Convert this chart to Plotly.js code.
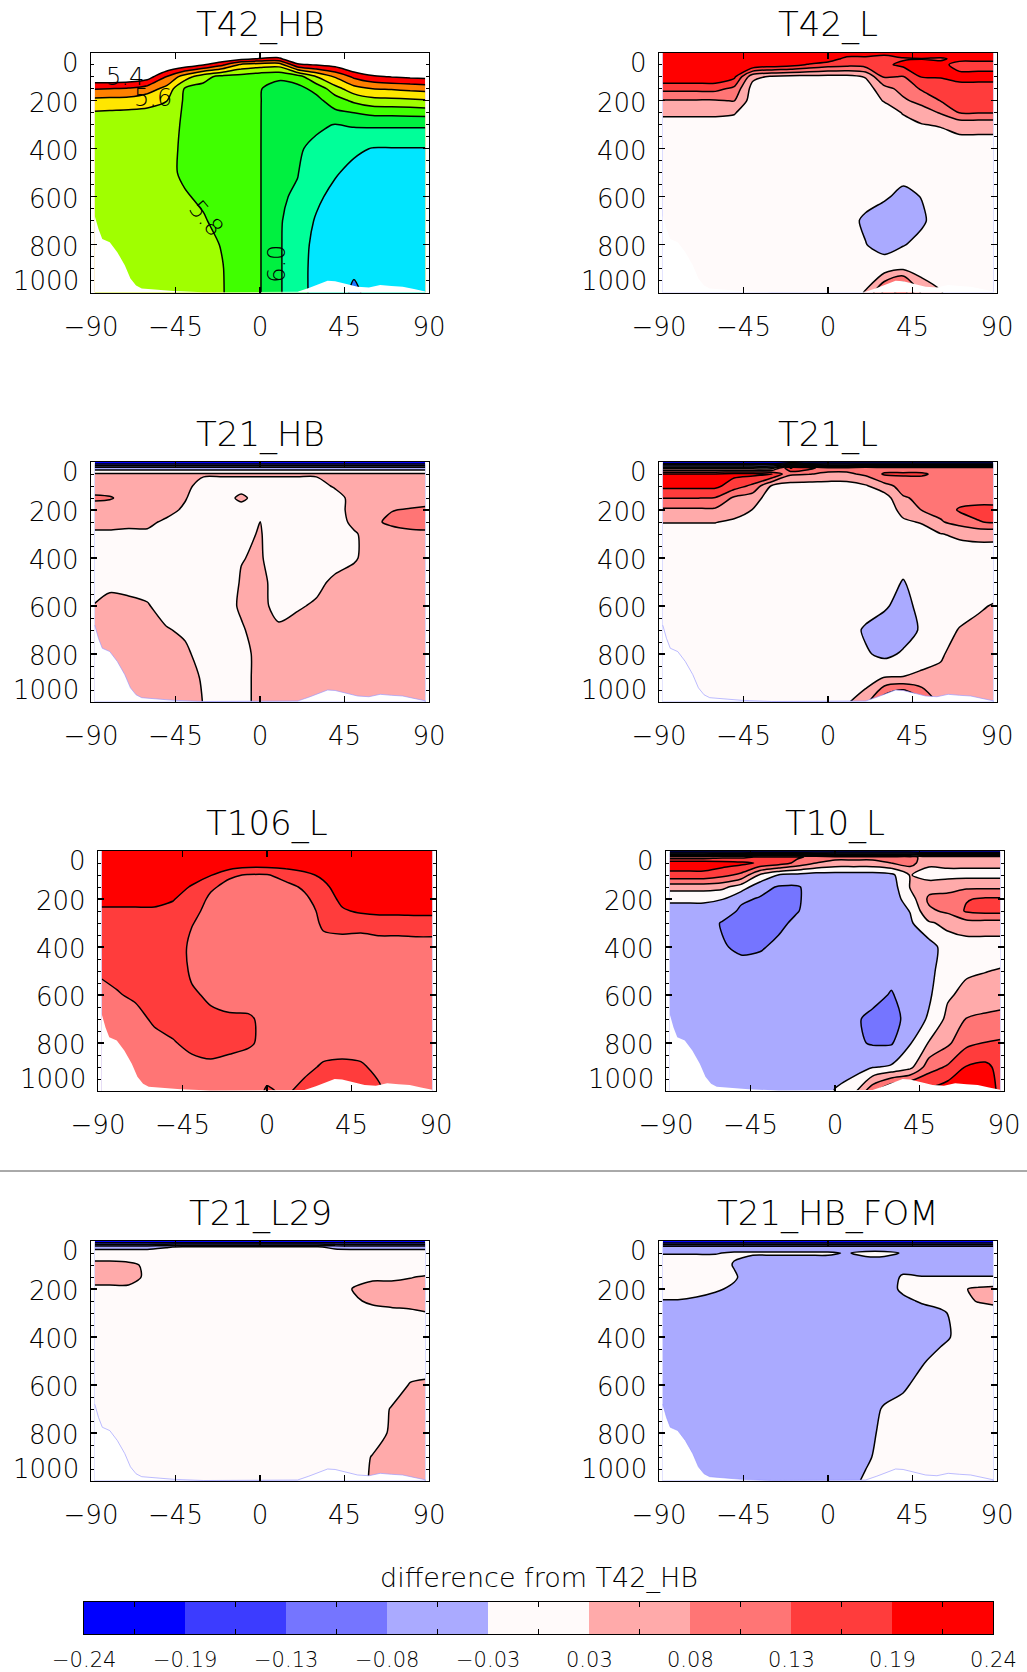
<!DOCTYPE html>
<html><head><meta charset="utf-8">
<script src="https://cdn.plot.ly/plotly-3.0.1.min.js"></script>
<style>html,body{margin:0;padding:0;background:#fff;}#chart{width:1027px;height:1672px;}</style>
</head><body><div id="chart"></div>
<script>
// ---------------- data ----------------
const lat = [-88,-80,-70,-60,-50,-40,-30,-20,-10,0,10,20,30,40,50,60,70,80,88];
const pres = [0,25,50,100,150,200,250,300,400,500,600,700,800,900,1000];

// each inner array: one latitude column, values top (0 hPa) to bottom (1000 hPa)
const t42hbByLat = [
[5.0,5.05,5.15,5.3,5.495,5.63,5.71,5.73,5.75,5.76,5.76,5.76,5.76,5.76,5.76],
[5.0,5.05,5.15,5.3,5.5,5.635,5.715,5.735,5.755,5.765,5.77,5.77,5.77,5.77,5.77],
[5.0,5.05,5.15,5.31,5.51,5.64,5.72,5.74,5.76,5.77,5.775,5.775,5.775,5.775,5.775],
[5.0,5.07,5.2,5.35,5.55,5.67,5.72,5.745,5.765,5.775,5.78,5.78,5.78,5.78,5.78],
[5.05,5.15,5.28,5.5,5.63,5.695,5.74,5.76,5.775,5.785,5.79,5.79,5.785,5.78,5.78],
[5.1,5.2,5.33,5.65,5.81,5.815,5.815,5.815,5.815,5.81,5.795,5.785,5.78,5.78,5.78],
[5.15,5.27,5.39,5.77,5.83,5.84,5.845,5.845,5.84,5.83,5.81,5.795,5.785,5.78,5.78],
[5.2,5.32,5.48,5.83,5.86,5.865,5.87,5.87,5.865,5.855,5.84,5.82,5.803,5.798,5.797],
[5.25,5.37,5.62,5.84,5.875,5.88,5.88,5.88,5.88,5.875,5.87,5.86,5.845,5.83,5.83],
[5.3,5.405,5.65,5.87,5.895,5.895,5.895,5.895,5.895,5.895,5.895,5.895,5.895,5.895,5.895],
[5.3,5.42,5.66,5.88,5.94,5.97,5.98,5.985,5.99,5.99,5.99,5.99,5.99,5.99,5.99],
[5.2,5.3,5.42,5.85,5.93,5.96,5.975,5.98,5.99,5.997,6.01,6.04,6.05,6.05,6.05],
[5.15,5.26,5.39,5.7,5.87,5.93,5.96,5.985,6.02,6.05,6.08,6.11,6.13,6.14,6.14],
[5.1,5.22,5.36,5.59,5.74,5.85,5.92,6.003,6.05,6.09,6.13,6.15,6.16,6.17,6.17],
[5.05,5.15,5.28,5.48,5.64,5.78,5.9,5.99,6.08,6.13,6.15,6.165,6.175,6.19,6.212],
[5.0,5.1,5.22,5.42,5.6,5.735,5.875,5.985,6.105,6.14,6.16,6.17,6.175,6.18,6.18],
[5.0,5.08,5.2,5.395,5.59,5.73,5.87,5.985,6.105,6.145,6.165,6.175,6.18,6.185,6.185],
[5.0,5.07,5.18,5.38,5.575,5.72,5.865,5.985,6.105,6.15,6.17,6.18,6.185,6.19,6.19],
[5.0,5.06,5.17,5.37,5.565,5.71,5.86,5.985,6.105,6.15,6.17,6.18,6.185,6.19,6.19]
];

const t42lByLat = [
[0.26,0.26,0.25,0.23,0.15,0.075,0.035,0.01,0,0,0,0,0,0,0],
[0.26,0.26,0.25,0.23,0.15,0.075,0.035,0.01,0,0,0,0,0,0,0],
[0.26,0.26,0.25,0.23,0.15,0.075,0.035,0.01,0,0,0,0,0,0,0],
[0.26,0.26,0.25,0.23,0.15,0.075,0.035,0.01,0,0,0,0,0,0,0],
[0.26,0.26,0.25,0.2,0.12,0.082,0.03,0.01,0,0,0,0,0,0,0],
[0.26,0.25,0.24,0.04,0.005,0,0,0,0,0,0,0,0,0,0],
[0.26,0.25,0.22,0.02,0,0,0,0,0,0,0,0,0,0,0],
[0.26,0.25,0.21,0.01,0,0,0,0,0,0,0,0,0,0,0],
[0.26,0.23,0.18,0.01,0,0,0,0,0,0,0,0,0,0,0],
[0.26,0.22,0.16,0.01,0,0,0,0,0,0,0,0,0,0,0],
[0.22,0.17,0.15,0.01,0,0,0,0,0,0,0,-0.01,0,0,0.005],
[0.22,0.17,0.16,0.03,0,0,0,0,0,0,-0.01,-0.035,-0.025,0,0.03],
[0.2,0.17,0.175,0.14,0.06,0.03,0,0,0,0,-0.02,-0.055,-0.045,0,0.15],
[0.22,0.18,0.2,0.13,0.1,0.07,0.03,0.01,0,-0.01,-0.04,-0.055,-0.03,0.02,0.22],
[0.22,0.185,0.2,0.19,0.14,0.1,0.05,0.025,0,0,-0.025,-0.035,-0.01,0,0.07],
[0.22,0.18,0.2,0.19,0.16,0.135,0.085,0.03,0,0,0,0,0,0,0.03],
[0.22,0.2,0.17,0.2,0.17,0.155,0.135,0.045,0,0,0,0,0,0,0],
[0.22,0.2,0.17,0.2,0.17,0.155,0.135,0.045,0,0,0,0,0,0,0],
[0.22,0.2,0.17,0.2,0.17,0.155,0.135,0.045,0,0,0,0,0,0,0]
];

const t21hbByLat = [
[-0.25,-0.06,0.035,0.05,0.09,0.05,0.04,0.02,0,0,0.03,0.05,0.05,0.05,0.05],
[-0.25,-0.06,0.035,0.05,0.085,0.05,0.04,0.02,0,0.02,0.035,0.05,0.05,0.05,0.05],
[-0.25,-0.06,0.035,0.05,0.06,0.05,0.04,0.015,0,0.022,0.03,0.05,0.05,0.05,0.05],
[-0.25,-0.06,0.035,0.05,0.05,0.045,0.035,0.02,0,0.01,0.03,0.05,0.05,0.05,0.05],
[-0.25,-0.06,0.035,0.05,0.05,0.04,0.02,0,0,0,0.01,0.03,0.05,0.05,0.05],
[-0.25,-0.06,0.035,0.045,0.03,0.02,0,0,0,0,0,0.02,0.035,0.05,0.05],
[-0.25,-0.06,0.035,0,0,0,0,0,0,0,0,0,0.01,0.02,0.025],
[-0.25,-0.06,0.035,0,0,0,0,0,0,0,0,0,0,0,0],
[-0.25,-0.06,0.035,0,0.04,0,0,0.015,0.025,0.03,0.035,0.02,0,0,0],
[-0.25,-0.06,0.035,0,0,0,0.028,0.03,0.032,0.045,0.05,0.05,0.05,0.05,0.05],
[-0.25,-0.06,0.035,0,0,0,0,0,0,0,0,0.04,0.05,0.05,0.05],
[-0.25,-0.06,0.035,0,0,0,0,0,0,0,0.02,0.05,0.05,0.05,0.05],
[-0.25,-0.06,0.035,0,0,0,0,0,0,0.01,0.035,0.05,0.05,0.05,0.05],
[-0.25,-0.06,0.035,0.035,0,0,0,0,0,0.04,0.05,0.05,0.05,0.05,0.05],
[-0.25,-0.06,0.035,0.05,0.05,0.05,0.04,0.02,0.02,0.05,0.05,0.05,0.05,0.05,0.05],
[-0.25,-0.06,0.035,0.05,0.05,0.06,0.07,0.05,0.05,0.05,0.05,0.05,0.05,0.05,0.05],
[-0.25,-0.06,0.035,0.05,0.05,0.078,0.09,0.06,0.05,0.05,0.05,0.05,0.05,0.05,0.05],
[-0.25,-0.06,0.035,0.05,0.05,0.085,0.095,0.07,0.05,0.05,0.05,0.05,0.05,0.05,0.05],
[-0.25,-0.06,0.035,0.05,0.055,0.09,0.1,0.07,0.05,0.05,0.05,0.05,0.05,0.05,0.05]
];

const t21lByLat = [
[-0.25,0.0,0.19,0.2,0.135,0.07,0.028,0.01,0,0,0,0,0,0,0],
[-0.25,0.0,0.19,0.2,0.135,0.07,0.028,0.01,0,0,0,0,0,0,0],
[-0.25,0.0,0.19,0.2,0.135,0.07,0.028,0.01,0,0,0,0,0,0,0],
[-0.25,0.0,0.19,0.2,0.13,0.07,0.028,0.01,0,0,0,0,0,0,0],
[-0.25,0.0,0.2,0.16,0.07,0.045,0.02,0,0,0,0,0,0,0,0],
[-0.25,0.0,0.2,0.12,0.05,0.025,0,0,0,0,0,0,0,0,0],
[-0.25,0.0,0.19,0.02,0,0,0,0,0,0,0,0,0,0,0],
[-0.25,0.19,0.09,0,0,0,0,0,0,0,0,0,0,0,0],
[-0.25,0.15,0.082,0,0,0,0,0,0,0,0,0,0,0,0],
[-0.25,0.1,0.07,0,0,0,0,0,0,0,0,0,0,0,0],
[-0.25,0.1,0.07,0,0,0,0,0,0,0,0,0,0,0,0.02],
[-0.25,0.12,0.09,0.02,0,0,0,0,0,0,0,-0.035,-0.02,0,0.06],
[-0.25,0.11,0.14,0.06,0,0,0,0,0,0,-0.02,-0.05,-0.04,0.03,0.18],
[-0.25,0.11,0.14,0.1,0.075,0.04,0.02,0,0,-0.03,-0.045,-0.05,-0.02,0.03,0.24],
[-0.25,0.11,0.14,0.1,0.09,0.082,0.03,0.01,0,0,-0.01,-0.02,0.01,0.035,0.15],
[-0.25,0.11,0.12,0.1,0.1,0.095,0.075,0.025,0,0,0,0,0.02,0.04,0.06],
[-0.25,0.11,0.12,0.1,0.11,0.14,0.1,0.035,0,0,0,0.03,0.05,0.05,0.05],
[-0.25,0.11,0.12,0.1,0.11,0.15,0.13,0.04,0,0,0.02,0.04,0.05,0.05,0.05],
[-0.25,0.11,0.12,0.1,0.11,0.15,0.14,0.04,0,0,0.03,0.05,0.05,0.05,0.05]
];

const t106lByLat = [
[0.25,0.25,0.24,0.23,0.22,0.2,0.18,0.17,0.16,0.14,0.12,0.11,0.1,0.1,0.1],
[0.25,0.25,0.24,0.23,0.22,0.2,0.18,0.17,0.16,0.145,0.13,0.11,0.1,0.1,0.1],
[0.25,0.25,0.24,0.23,0.22,0.2,0.18,0.17,0.16,0.15,0.14,0.12,0.1,0.1,0.1],
[0.25,0.25,0.24,0.23,0.22,0.2,0.18,0.17,0.16,0.155,0.15,0.14,0.12,0.1,0.1],
[0.25,0.25,0.24,0.23,0.22,0.19,0.17,0.16,0.155,0.155,0.155,0.15,0.13,0.11,0.1],
[0.25,0.25,0.24,0.22,0.18,0.16,0.145,0.135,0.125,0.128,0.138,0.15,0.145,0.12,0.1],
[0.25,0.25,0.24,0.19,0.14,0.125,0.12,0.12,0.12,0.12,0.128,0.14,0.15,0.125,0.1],
[0.25,0.25,0.24,0.14,0.12,0.11,0.11,0.11,0.11,0.11,0.115,0.14,0.145,0.12,0.1],
[0.25,0.25,0.22,0.13,0.115,0.105,0.105,0.105,0.105,0.105,0.11,0.14,0.14,0.11,0.1],
[0.25,0.25,0.22,0.13,0.11,0.105,0.105,0.105,0.105,0.105,0.105,0.12,0.12,0.11,0.14],
[0.25,0.25,0.22,0.15,0.12,0.105,0.105,0.105,0.105,0.105,0.105,0.105,0.105,0.11,0.125],
[0.25,0.25,0.23,0.17,0.14,0.125,0.115,0.11,0.105,0.105,0.105,0.105,0.105,0.12,0.15],
[0.25,0.25,0.24,0.2,0.17,0.155,0.145,0.14,0.12,0.11,0.105,0.105,0.11,0.14,0.185],
[0.25,0.25,0.24,0.23,0.22,0.2,0.18,0.145,0.12,0.11,0.105,0.105,0.11,0.145,0.195],
[0.25,0.25,0.24,0.23,0.22,0.21,0.195,0.15,0.11,0.105,0.105,0.105,0.11,0.14,0.16],
[0.25,0.25,0.24,0.23,0.22,0.21,0.2,0.16,0.11,0.105,0.105,0.105,0.105,0.12,0.14],
[0.25,0.25,0.24,0.23,0.22,0.21,0.2,0.16,0.11,0.105,0.105,0.105,0.105,0.1,0.1],
[0.25,0.25,0.24,0.23,0.22,0.21,0.2,0.165,0.11,0.105,0.105,0.105,0.105,0.1,0.1],
[0.25,0.25,0.24,0.23,0.22,0.21,0.2,0.165,0.11,0.105,0.105,0.105,0.105,0.1,0.1]
];

const t10lByLat = [
[-0.25,0.1,0.22,0.17,0.05,-0.02,-0.04,-0.05,-0.055,-0.055,-0.055,-0.05,-0.05,-0.05,-0.05],
[-0.25,0.1,0.22,0.17,0.05,-0.02,-0.04,-0.05,-0.055,-0.055,-0.055,-0.05,-0.05,-0.05,-0.05],
[-0.25,0.1,0.22,0.17,0.05,-0.02,-0.04,-0.05,-0.06,-0.055,-0.055,-0.05,-0.05,-0.05,-0.05],
[-0.25,0.12,0.21,0.15,0.04,-0.025,-0.05,-0.085,-0.075,-0.06,-0.055,-0.05,-0.05,-0.05,-0.05],
[-0.25,0.12,0.2,0.12,0.0,-0.07,-0.09,-0.1,-0.09,-0.06,-0.055,-0.055,-0.055,-0.055,-0.05],
[-0.25,0.14,0.18,0.02,-0.06,-0.085,-0.1,-0.1,-0.085,-0.06,-0.055,-0.055,-0.055,-0.055,-0.05],
[-0.25,0.14,0.16,-0.03,-0.085,-0.1,-0.1,-0.09,-0.07,-0.06,-0.055,-0.055,-0.055,-0.055,-0.05],
[-0.25,0.14,0.12,-0.04,-0.085,-0.085,-0.082,-0.07,-0.06,-0.055,-0.055,-0.055,-0.055,-0.055,-0.05],
[-0.25,0.12,0.08,-0.05,-0.055,-0.06,-0.06,-0.06,-0.055,-0.055,-0.055,-0.055,-0.055,-0.055,-0.05],
[-0.25,0.1,0.06,-0.05,-0.055,-0.055,-0.055,-0.055,-0.055,-0.055,-0.055,-0.055,-0.055,-0.04,-0.025],
[-0.25,0.1,0.06,-0.05,-0.055,-0.055,-0.055,-0.055,-0.055,-0.055,-0.055,-0.07,-0.07,-0.05,0.01],
[-0.25,0.1,0.06,-0.05,-0.055,-0.055,-0.055,-0.055,-0.055,-0.055,-0.06,-0.095,-0.085,-0.03,0.12],
[-0.25,0.1,0.08,-0.04,-0.055,-0.055,-0.055,-0.055,-0.055,-0.06,-0.085,-0.1,-0.085,-0.02,0.2],
[-0.25,0.1,0.1,0.03,0.03,0.0,-0.025,-0.035,-0.045,-0.045,-0.05,-0.06,-0.03,0.01,0.22],
[-0.25,0.05,0.04,0.0,0.06,0.09,0.07,0.02,-0.05,-0.04,-0.035,-0.02,0.03,0.11,0.2],
[-0.25,0.05,0.04,0.01,0.06,0.1,0.09,0.04,0.0,0.0,0.02,0.04,0.07,0.14,0.22],
[-0.25,0.05,0.04,0.01,0.07,0.13,0.14,0.06,0.0,0.02,0.04,0.082,0.12,0.19,0.23],
[-0.25,0.05,0.04,0.01,0.07,0.14,0.15,0.06,0.0,0.025,0.05,0.09,0.135,0.2,0.23],
[-0.25,0.05,0.04,0.01,0.07,0.14,0.15,0.06,0.0,0.03,0.055,0.095,0.14,0.17,0.17]
];

const t21l29ByLat = [
[-0.25,-0.045,0,0.04,0.04,0.02,0,0,0,0,0,0,0,0,0],
[-0.25,-0.045,0,0.04,0.04,0.02,0,0,0,0,0,0,0,0,0],
[-0.25,-0.045,0,0.035,0.04,0.02,0,0,0,0,0,0,0,0,0],
[-0.25,-0.045,0,0.02,0.02,0,0,0,0,0,0,0,0,0,0],
[-0.25,-0.03,0,0,0,0,0,0,0,0,0,0,0,0,0],
[-0.25,-0.02,0,0,0,0,0,0,0,0,0,0,0,0,0],
[-0.25,-0.02,0,0,0,0,0,0,0,0,0,0,0,0,0],
[-0.25,-0.02,0,0,0,0,0,0,0,0,0,0,0,0,0],
[-0.25,-0.02,0,0,0,0,0,0,0,0,0,0,0,0,0],
[-0.25,-0.02,0,0,0,0,0,0,0,0,0,0,0,0,0],
[-0.25,-0.02,0,0,0,0,0,0,0,0,0,0,0,0,0],
[-0.25,-0.02,0,0,0,0,0,0,0,0,0,0,0,0,0],
[-0.25,-0.02,0,0,0,0,0,0,0,0,0,0,0,0,0],
[-0.25,-0.04,0,0,0,0,0,0,0,0,0,0,0,0,0],
[-0.25,-0.045,0,0,0.01,0.03,0.02,0,0,0,0,0,0,0,0],
[-0.25,-0.045,0,0,0.02,0.04,0.035,0.01,0,0,0,0,0,0.03,0.035],
[-0.25,-0.045,0,0,0.02,0.04,0.04,0.015,0,0,0,0.03,0.035,0.04,0.04],
[-0.25,-0.045,0,0,0.025,0.04,0.04,0.02,0,0,0.03,0.04,0.04,0.04,0.04],
[-0.25,-0.045,0,0,0.03,0.04,0.04,0.025,0,0,0.035,0.04,0.04,0.04,0.04]
];

const t21hbfomByLat = [
[-0.25,-0.06,-0.03,0,0,0,-0.03,-0.05,-0.055,-0.055,-0.055,-0.055,-0.055,-0.055,-0.055],
[-0.25,-0.06,-0.03,0,0,0,-0.03,-0.05,-0.055,-0.055,-0.055,-0.055,-0.055,-0.055,-0.055],
[-0.25,-0.06,-0.03,0,0,-0.01,-0.035,-0.05,-0.055,-0.055,-0.055,-0.055,-0.055,-0.055,-0.055],
[-0.25,-0.06,-0.03,0,0,-0.02,-0.045,-0.05,-0.055,-0.055,-0.055,-0.055,-0.055,-0.055,-0.055],
[-0.25,-0.06,-0.02,-0.03,-0.02,-0.035,-0.05,-0.055,-0.055,-0.055,-0.055,-0.055,-0.055,-0.055,-0.055],
[-0.25,-0.06,-0.02,-0.055,-0.055,-0.055,-0.055,-0.055,-0.055,-0.055,-0.055,-0.055,-0.055,-0.055,-0.055],
[-0.25,-0.06,-0.02,-0.055,-0.055,-0.055,-0.055,-0.055,-0.055,-0.055,-0.055,-0.055,-0.055,-0.055,-0.055],
[-0.25,-0.06,-0.02,-0.055,-0.055,-0.055,-0.055,-0.055,-0.055,-0.055,-0.055,-0.055,-0.055,-0.055,-0.055],
[-0.25,-0.06,-0.02,-0.055,-0.055,-0.055,-0.055,-0.055,-0.055,-0.055,-0.055,-0.055,-0.055,-0.055,-0.055],
[-0.25,-0.06,-0.02,-0.055,-0.055,-0.055,-0.055,-0.055,-0.055,-0.055,-0.055,-0.055,-0.055,-0.055,-0.055],
[-0.25,-0.06,-0.03,-0.055,-0.055,-0.055,-0.055,-0.055,-0.055,-0.055,-0.055,-0.055,-0.055,-0.055,-0.055],
[-0.25,-0.06,-0.015,-0.055,-0.055,-0.055,-0.055,-0.055,-0.055,-0.055,-0.055,-0.055,-0.055,-0.04,-0.015],
[-0.25,-0.06,-0.015,-0.055,-0.055,-0.055,-0.055,-0.055,-0.055,-0.055,-0.055,-0.02,-0.005,0,0],
[-0.25,-0.06,-0.03,-0.05,-0.02,-0.015,-0.04,-0.05,-0.05,-0.05,-0.04,0,0,0,0],
[-0.25,-0.06,-0.05,-0.05,-0.025,0,-0.02,-0.05,-0.05,-0.035,0,0,0,0,0],
[-0.25,-0.06,-0.05,-0.05,-0.025,0,0,-0.04,-0.045,0,0,0,0,0,0],
[-0.25,-0.06,-0.05,-0.05,-0.025,0.02,0.01,0,-0.01,0,0,0,0,0,0],
[-0.25,-0.06,-0.05,-0.05,-0.025,0.035,0.03,0,0,0,0,0,0,0,0],
[-0.25,-0.06,-0.05,-0.05,-0.025,0.04,0.035,0.01,0,0,0,0,0,0,0]
];

// surface (topography) outline, hPa
const topoLat = [-88,-86,-84,-80,-76,-72,-69,-66,-63,-56,-46,-30,0,20,26,32,36,40,46,52,58,64,70,76,82,88];
const topoP   = [680,735,776,790,831,886,941,970,982,986,993,998,998,996,980,960,950,952,962,975,978,968,972,975,985,995];

const panelNames = ['T42_HB','T42_L','T21_HB','T21_L','T106_L','T10_L','T21_L29','T21_HB_FOM'];
const panelData = [t42hbByLat,t42lByLat,t21hbByLat,t21lByLat,t106lByLat,t10lByLat,t21l29ByLat,t21hbfomByLat];

const absColors = ['#ffffff','#ff0000','#ff8000','#ffe600','#a0ff00','#40ff00','#00f040','#00ff99','#00e6ff','#1e78ff'];
const absLevelStart = 5.4, absLevelEnd = 6.2, absLevelStep = 0.1;
const absLineLabels = ['5.4','5.6','5.8','6.0'];

const diffColors = ['#0000ff','#3c3cff','#7575ff','#aaaaff','#fffafa','#ffaaaa','#ff7575','#ff3c3c','#ff0000'];
const diffMin = -0.24, diffMax = 0.24;
const diffTickText = ['\u22120.24','\u22120.19','\u22120.13','\u22120.08','\u22120.03','0.03','0.08','0.13','0.19','0.24'];
const colorbarIndex = [0,1,2,3,4,5,6,7,8];

const xTickStep = 45;
const yTicks = [0,200,400,600,800,1000];

// ---------------- build ----------------
const W = 1027, H = 1672;
const FONT = '"DejaVu Sans", sans-serif';
const WEIGHT = 200;
function fnt(size, w){ return {size: size, family: FONT, color: 'black', weight: w || WEIGHT}; }
function transpose(cols){ return cols[0].map((_, i) => cols.map(c => c[i])); }

const nBins = diffColors.length;
const step = (diffMax - diffMin) / nBins;
const bounds = Array.from({length: nBins + 1}, (_, k) => diffMin + k * step);
const centers = colorbarIndex.map(k => diffMin + (k + 0.5) * step);

const boxes = [
  [91,429,52.7,292.7],[659,997,52.7,292.7],
  [91,429,462,702],[659,997,462,702],
  [98,436,851,1091],[666,1004,851,1091],
  [91,429,1241,1481],[659,997,1241,1481]
];
const t21Panels = [2,3,6,7];

const traces = [];
const layout = {
  width: W, height: H, margin: {l:0,r:0,t:0,b:0},
  paper_bgcolor: 'white', plot_bgcolor: 'white', showlegend: false,
  font: fnt(14),
  annotations: [], shapes: []
};

panelData.forEach((cols, i) => {
  const n = i + 1, sfx = n === 1 ? '' : String(n);
  const isAbs = i === 0;
  const b = boxes[i];
  traces.push({
    type: 'contour', x: lat, y: pres, z: transpose(cols),
    xaxis: 'x' + sfx, yaxis: 'y' + sfx,
    autocontour: false,
    contours: isAbs
      ? {start: absLevelStart, end: absLevelEnd, size: absLevelStep, coloring: 'fill', showlabels: false}
      : {start: diffMin + step, end: diffMax - step, size: step, coloring: 'fill', showlabels: false},
    colorscale: isAbs ? absColors.map((c, k) => [k / (absColors.length - 1), c])
                      : diffColors.map((c, k) => [k / (diffColors.length - 1), c]),
    line: {color: 'black', width: 1.5, smoothing: 0.8},
    showscale: false, hoverinfo: 'skip'
  });
  const outline = t21Panels.includes(i);
  traces.push({
    type: 'scatter', mode: 'lines',
    x: topoLat.concat([88, -88]), y: topoP.concat([1000, 1000]),
    fill: 'toself', fillcolor: 'white',
    line: {color: outline ? 'rgba(150,150,255,0.8)' : 'rgba(0,0,0,0)', width: outline ? 0.8 : 0},
    xaxis: 'x' + sfx, yaxis: 'y' + sfx, hoverinfo: 'skip'
  });
  layout['xaxis' + sfx] = {
    domain: [b[0] / W, b[1] / W], anchor: 'y' + sfx,
    range: [-90, 90], tick0: -90, dtick: xTickStep,
    ticks: 'inside', ticklen: 6, tickwidth: 1.2, tickcolor: 'black',
    showline: true, linecolor: 'black', linewidth: 1.2, mirror: 'ticks',
    showgrid: false, zeroline: false, fixedrange: true,
    tickfont: fnt(26), ticklabelstandoff: 11
  };
  layout['yaxis' + sfx] = {
    domain: [1 - b[3] / H, 1 - b[2] / H], anchor: 'x' + sfx,
    range: [1000, 0], tick0: 0, dtick: 200,
    ticks: 'inside', ticklen: 6, tickwidth: 1.2, tickcolor: 'black',
    minor: {tick0: 0, dtick: 50, ticks: 'inside', ticklen: 3, tickwidth: 1, tickcolor: 'black'},
    showticklabels: false,
    showline: true, linecolor: 'black', linewidth: 1.2, mirror: 'ticks',
    showgrid: false, zeroline: false, fixedrange: true
  };
  layout.annotations.push({
    xref: 'x' + sfx + ' domain', yref: 'y' + sfx + ' domain', x: 0.5, y: 1,
    yanchor: 'middle', yshift: 28, showarrow: false,
    text: panelNames[i], font: fnt(34)
  });
  yTicks.forEach(v => {
    layout.annotations.push({
      xref: 'x' + sfx + ' domain', x: 0, xanchor: 'right', xshift: -10,
      yref: 'y' + sfx, y: v, yanchor: 'middle',
      yshift: v === yTicks[0] ? -10 : (v === yTicks[yTicks.length - 1] ? 12 : -2),
      showarrow: false, text: String(v), font: fnt(26)
    });
  });
});

// contour labels on the first panel
const labelPlaces = [[-72, 100, 0], [-57, 190, 0], [-29, 690, 50], [9, 880, -90]];
absLineLabels.forEach((t, k) => {
  const p = labelPlaces[k];
  layout.annotations.push({
    xref: 'x', yref: 'y', x: p[0], y: p[1], textangle: p[2], showarrow: false,
    text: t, font: fnt(24, 300)
  });
});

// colour bar
traces.push({
  type: 'heatmap', x: centers, y: [0], z: [colorbarIndex],
  colorscale: diffColors.map((c, k) => [k / (diffColors.length - 1), c]),
  zmin: 0, zmax: diffColors.length - 1, showscale: false, hoverinfo: 'skip',
  xaxis: 'x9', yaxis: 'y9'
});
layout.xaxis9 = {
  domain: [84 / W, 993 / W], anchor: 'y9', range: [diffMin, diffMax],
  tickmode: 'array', tickvals: centers, ticks: 'inside', ticklen: 5, tickcolor: 'black',
  showticklabels: false, showline: true, linecolor: 'black', linewidth: 1.2, mirror: 'ticks',
  showgrid: false, zeroline: false, fixedrange: true
};
layout.yaxis9 = {
  domain: [1 - 1634 / H, 1 - 1602 / H], anchor: 'x9', range: [-0.5, 0.5],
  showticklabels: false, ticks: '', showline: true, linecolor: 'black', linewidth: 1.2,
  mirror: true, showgrid: false, zeroline: false, fixedrange: true
};
bounds.forEach((v, k) => {
  layout.annotations.push({
    xref: 'x9', yref: 'y9 domain', x: v, y: 0, yanchor: 'middle', yshift: -26,
    showarrow: false, text: diffTickText[k], font: fnt(21)
  });
});
layout.annotations.push({
  xref: 'x9 domain', yref: 'paper', x: 0.5, y: 1 - 1578 / H, yanchor: 'middle',
  showarrow: false, text: 'difference from T42_HB', font: fnt(27)
});

layout.shapes.push({type: 'line', xref: 'paper', yref: 'paper', x0: 0, x1: 1,
  y0: 1 - 1171 / H, y1: 1 - 1171 / H, line: {color: '#555', width: 1}});

Plotly.newPlot('chart', traces, layout, {staticPlot: true, displayModeBar: false});
</script>
</body></html>
